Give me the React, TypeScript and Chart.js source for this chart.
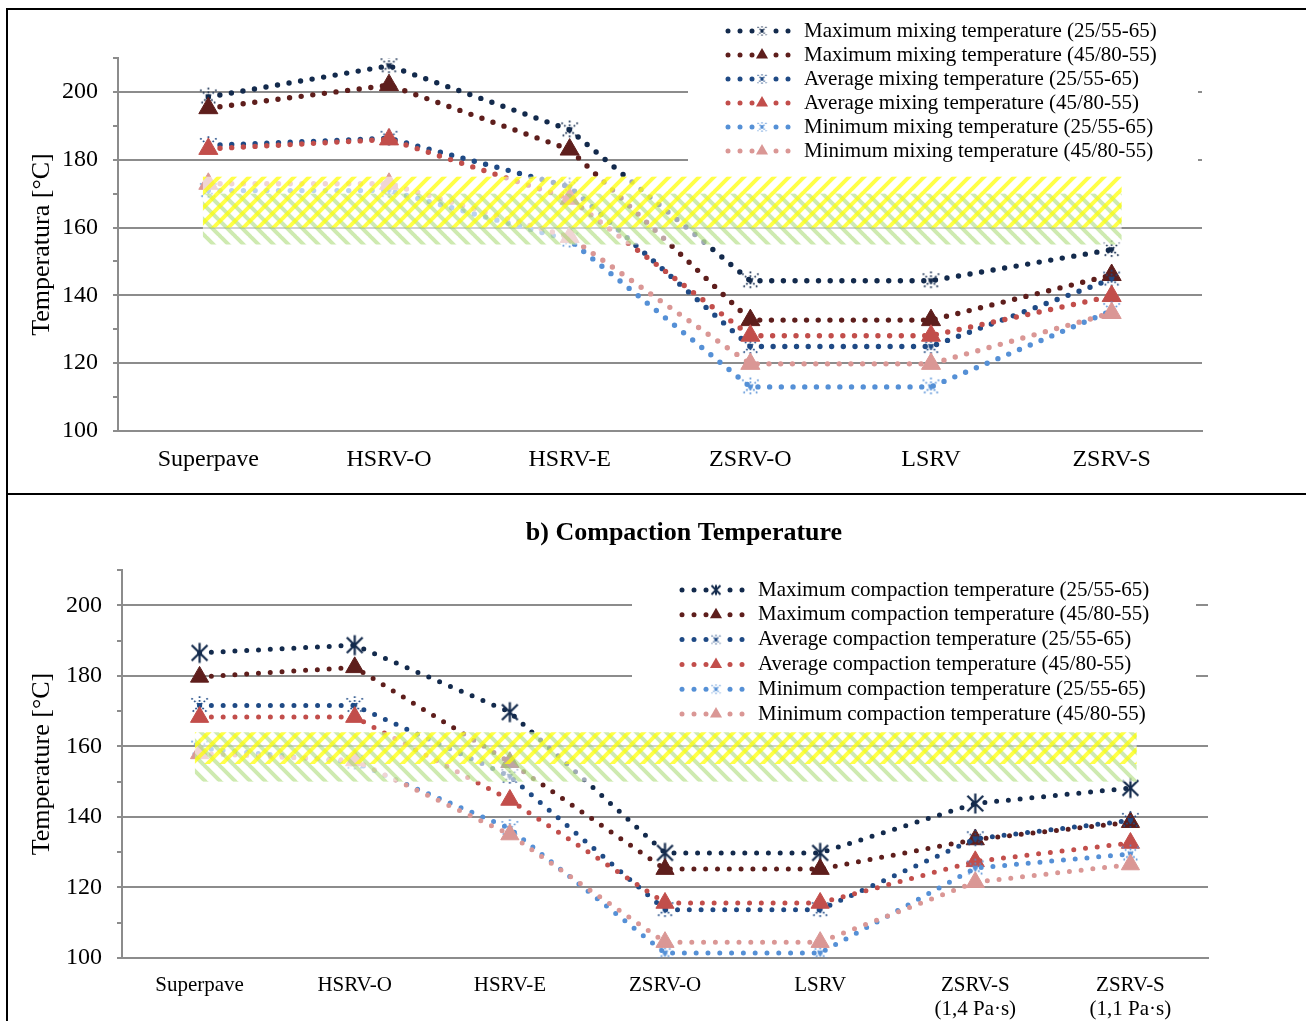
import React, { useEffect, useRef } from 'react';
import { Chart, registerables } from 'chart.js';

Chart.register(...registerables);

const SERIF = '"Liberation Serif", "Times New Roman", Times, serif';

// ---------- a) mixing temperature ----------
const mixCategories = ['Superpave', 'HSRV-O', 'HSRV-E', 'ZSRV-O', 'LSRV', 'ZSRV-S'];
const mixMax2555 = [198.5, 207.7, 188.8, 144.3, 144.3, 153.5];
const mixMax4580 = [195.2, 202.0, 183.0, 132.7, 132.7, 146.0];
const mixAvg2555 = [184.2, 186.3, 172.0, 124.9, 124.9, 144.8];
const mixAvg4580 = [183.2, 186.0, 168.5, 128.1, 128.1, 139.8];
const mixMin2555 = [170.9, 170.9, 156.3, 113.0, 113.0, 135.5];
const mixMin4580 = [172.9, 172.9, 157.2, 119.8, 119.8, 134.8];
const mixLabels = [
  'Maximum mixing temperature (25/55-65)',
  'Maximum mixing temperature (45/80-55)',
  'Average mixing temperature (25/55-65)',
  'Average mixing temperature (45/80-55)',
  'Minimum mixing temperature (25/55-65)',
  'Minimum mixing temperature (45/80-55)',
];
const mixYellowBand = [160, 175];
const mixGreenBand = [155, 170];
const mixBandSpan = [-0.03, 5.055];
const mixYTitle = 'Temperatura [°C]';

// ---------- b) compaction temperature ----------
const compTitle = 'b) Compaction Temperature';
const compCategories = [
  'Superpave',
  'HSRV-O',
  'HSRV-E',
  'ZSRV-O',
  'LSRV',
  ['ZSRV-S', '(1,4 Pa·s)'],
  ['ZSRV-S', '(1,1 Pa·s)'],
];
const compMax2555 = [186.5, 188.7, 169.7, 129.8, 129.8, 143.8, 148.2];
const compMax4580 = [179.7, 182.4, 155.5, 125.2, 125.2, 133.6, 138.5];
const compAvg2555 = [171.6, 171.6, 151.5, 113.7, 113.7, 133.8, 139.0];
const compAvg4580 = [168.3, 168.3, 144.8, 115.6, 115.6, 127.4, 132.6];
const compMin2555 = [159.5, 155.5, 136.7, 101.4, 101.4, 125.5, 129.5];
const compMin4580 = [158.0, 156.0, 135.0, 104.5, 104.5, 121.5, 126.5];
const compLabels = [
  'Maximum compaction temperature (25/55-65)',
  'Maximum compaction temperature (45/80-55)',
  'Average compaction temperature (25/55-65)',
  'Average compaction temperature (45/80-55)',
  'Minimum compaction temperature (25/55-65)',
  'Minimum compaction temperature (45/80-55)',
];
const compYellowBand = [155, 164];
const compGreenBand = [150, 164];
const compBandSpan = [-0.03, 6.04];
const compYTitle = 'Temperature [°C]';

const yMin = 100;
const yMax = 210;

const seriesColors = ['#132a4c', '#5e1e1c', '#1f4a85', '#c24e4b', '#5590d6', '#da9795'];
const seriesKinds = ['star', 'tri', 'star', 'tri', 'star', 'tri'];
const GRID = '#8c8c8c';

function makeStar(color: string, w: number, h: number, lw: number, dotted: boolean) {
  const c = document.createElement('canvas');
  c.width = w;
  c.height = h;
  const g = c.getContext('2d')!;
  g.strokeStyle = color;
  g.lineWidth = lw;
  if (dotted) g.setLineDash([lw, lw * 1.15]);
  const m = lw / 2 + 0.5;
  g.beginPath();
  g.moveTo(w / 2, m);
  g.lineTo(w / 2, h - m);
  g.moveTo(m, h * 0.16);
  g.lineTo(w - m, h * 0.84);
  g.moveTo(w - m, h * 0.16);
  g.lineTo(m, h * 0.84);
  g.stroke();
  if (dotted) {
    g.setLineDash([]);
    g.fillStyle = color;
    g.beginPath();
    g.arc(w / 2, h / 2, lw * 1.4, 0, Math.PI * 2);
    g.fill();
  }
  return c;
}

function makeHatch(ctx: CanvasRenderingContext2D, color: string, dir: number) {
  const p = 15;
  const c = document.createElement('canvas');
  c.width = p;
  c.height = p;
  const g = c.getContext('2d')!;
  g.strokeStyle = color;
  g.lineWidth = 4;
  g.beginPath();
  for (let k = -1; k <= 1; k++) {
    if (dir > 0) {
      g.moveTo(k * p - 1, p + 1);
      g.lineTo(k * p + p + 1, -1);
    } else {
      g.moveTo(k * p - 1, -1);
      g.lineTo(k * p + p + 1, p + 1);
    }
  }
  g.stroke();
  return ctx.createPattern(c, 'repeat')!;
}

interface Panel {
  categories: any[];
  series: number[][];
  labels: string[];
  yellow: number[];
  green: number[];
  span: number[];
  yTitle: string;
  title?: string;
  titlePos?: number[];
  yWidth: number;
  xHeight: number;
  padTop: number;
  padRight: number;
  catFont: number;
  dotSize: number;
  dotGap: number;
  triR: number;
  solidMaxStar: boolean;
  legend: { x: number; y: number; w: number; h: number; sampleX: number; textX: number; rowY: number; rowGap: number };
}

const mixPanel: Panel = {
  categories: mixCategories,
  series: [mixMax2555, mixMax4580, mixAvg2555, mixAvg4580, mixMin2555, mixMin4580],
  labels: mixLabels,
  yellow: mixYellowBand,
  green: mixGreenBand,
  span: mixBandSpan,
  yTitle: mixYTitle,
  yWidth: 108,
  xHeight: 60,
  padTop: 47,
  padRight: 104,
  catFont: 24,
  dotSize: 5.4,
  dotGap: 11.7,
  triR: 11,
  solidMaxStar: false,
  legend: { x: 678, y: 3, w: 510, h: 155, sampleX: 718, textX: 794, rowY: 20, rowGap: 24 },
};

const compPanel: Panel = {
  categories: compCategories,
  series: [compMax2555, compMax4580, compAvg2555, compAvg4580, compMin2555, compMin4580],
  labels: compLabels,
  yellow: compYellowBand,
  green: compGreenBand,
  span: compBandSpan,
  yTitle: compYTitle,
  title: compTitle,
  titlePos: [674, 37],
  yWidth: 112,
  xHeight: 63,
  padTop: 74,
  padRight: 98,
  catFont: 21,
  dotSize: 5,
  dotGap: 11.8,
  triR: 10.5,
  solidMaxStar: true,
  legend: { x: 622, y: 79, w: 564, h: 150, sampleX: 672, textX: 748, rowY: 94, rowGap: 24.8 },
};

function buildChart(canvas: HTMLCanvasElement, p: Panel) {
  const bigStars = seriesColors.map((c, i) =>
    i === 0 && p.solidMaxStar ? makeStar(c, 19, 23, 2.2, false) : makeStar(c, 19, 21, 1.7, true)
  );
  const smallStars = seriesColors.map((c, i) =>
    i === 0 && p.solidMaxStar ? makeStar(c, 12, 13, 2, false) : makeStar(c, 11, 12, 1.3, true)
  );

  const datasets = p.series.map((data, i) => ({
    label: p.labels[i],
    data,
    borderColor: seriesColors[i],
    backgroundColor: seriesColors[i],
    borderWidth: p.dotSize,
    borderDash: [0, p.dotGap],
    borderCapStyle: 'round' as const,
    tension: 0,
    fill: false,
    pointStyle: seriesKinds[i] === 'tri' ? 'triangle' : (bigStars[i] as any),
    pointRadius: seriesKinds[i] === 'tri' ? p.triR : 10,
    pointBackgroundColor: seriesColors[i],
    pointBorderColor: seriesColors[i],
    pointBorderWidth: 1,
    order: -i,
  }));

  const bandPlugin = {
    id: 'hatchBands',
    afterDatasetsDraw(chart: any) {
      const { ctx, scales } = chart;
      const x = scales.x;
      const y = scales.y;
      const x0 = x.getPixelForValue(p.span[0]);
      const x1 = x.getPixelForValue(p.span[1]);
      const hi = Math.max(p.yellow[1], p.green[1]);
      const lo = Math.min(p.yellow[0], p.green[0]);
      ctx.save();
      ctx.fillStyle = 'rgba(255,255,255,0.6)';
      ctx.fillRect(x0, y.getPixelForValue(hi), x1 - x0, y.getPixelForValue(lo) - y.getPixelForValue(hi));
      const bands = [
        { r: p.green, color: 'rgba(146,208,80,0.45)', dir: -1 },
        { r: p.yellow, color: 'rgba(255,255,0,0.72)', dir: 1 },
      ];
      bands.forEach((b) => {
        const yt = y.getPixelForValue(b.r[1]);
        const yb = y.getPixelForValue(b.r[0]);
        ctx.fillStyle = makeHatch(ctx, b.color, b.dir);
        ctx.fillRect(x0, yt, x1 - x0, yb - yt);
      });
      ctx.restore();
    },
  };

  const legendPlugin = {
    id: 'seriesLegend',
    afterDraw(chart: any) {
      const ctx: CanvasRenderingContext2D = chart.ctx;
      const L = p.legend;
      ctx.save();
      ctx.fillStyle = '#fff';
      ctx.fillRect(L.x, L.y, L.w, L.h);
      p.labels.forEach((label, i) => {
        const cy = L.rowY + i * L.rowGap;
        ctx.fillStyle = seriesColors[i];
        for (let k = 0; k < 6; k++) {
          if (k === 3) continue;
          ctx.beginPath();
          ctx.arc(L.sampleX + k * 12, cy, 2.5, 0, Math.PI * 2);
          ctx.fill();
        }
        const mx = L.sampleX + 34;
        if (seriesKinds[i] === 'tri') {
          const r = 7;
          ctx.beginPath();
          ctx.moveTo(mx, cy - r);
          ctx.lineTo(mx + r * 0.866, cy + r * 0.5);
          ctx.lineTo(mx - r * 0.866, cy + r * 0.5);
          ctx.closePath();
          ctx.fill();
        } else {
          const s = smallStars[i];
          ctx.drawImage(s, mx - s.width / 2, cy - s.height / 2);
        }
        ctx.fillStyle = '#000';
        ctx.font = `21px ${SERIF}`;
        ctx.textBaseline = 'middle';
        ctx.textAlign = 'left';
        ctx.fillText(label, L.textX, cy);
      });
      if (p.title && p.titlePos) {
        ctx.font = `bold 26px ${SERIF}`;
        ctx.textAlign = 'center';
        ctx.textBaseline = 'middle';
        ctx.fillStyle = '#000';
        ctx.fillText(p.title, p.titlePos[0], p.titlePos[1]);
      }
      ctx.restore();
    },
  };

  return new Chart(canvas, {
    type: 'line',
    data: { labels: p.categories, datasets: datasets as any },
    plugins: [bandPlugin, legendPlugin],
    options: {
      responsive: false,
      animation: false,
      events: [],
      layout: { padding: { top: p.padTop, right: p.padRight, left: 0, bottom: 0 } },
      plugins: { legend: { display: false }, tooltip: { enabled: false }, title: { display: false } },
      scales: {
        x: {
          offset: true,
          grid: { display: false, drawTicks: false },
          border: { display: true, color: GRID, width: 2 },
          ticks: {
            color: '#000',
            font: { family: SERIF, size: p.catFont, lineHeight: 1.15 },
            padding: 15,
            autoSkip: false,
            maxRotation: 0,
          },
          afterFit: (s: any) => {
            s.height = p.xHeight;
          },
        },
        y: {
          min: yMin,
          max: yMax,
          ticks: {
            stepSize: 10,
            autoSkip: false,
            padding: 15,
            color: '#000',
            font: { family: SERIF, size: 24 },
            callback: (v: any) => (Number(v) % 20 === 0 ? String(v) : ''),
          },
          grid: {
            color: (c: any) => (c.tick && c.tick.value % 20 === 0 ? GRID : 'rgba(0,0,0,0)'),
            lineWidth: 2,
            tickLength: 5,
            tickColor: GRID,
            tickWidth: 2,
            drawTicks: true,
          },
          border: { display: true, color: GRID, width: 2 },
          title: {
            display: true,
            text: p.yTitle,
            color: '#000',
            font: { family: SERIF, size: 26 },
            padding: { top: 17, bottom: 0 },
          },
          afterFit: (s: any) => {
            s.width = p.yWidth;
          },
        },
      },
    } as any,
  });
}

export default function App() {
  const topRef = useRef<HTMLCanvasElement>(null);
  const botRef = useRef<HTMLCanvasElement>(null);

  useEffect(() => {
    document.documentElement.style.overflow = 'hidden';
    const c1 = buildChart(topRef.current!, mixPanel);
    const c2 = buildChart(botRef.current!, compPanel);
    return () => {
      c1.destroy();
      c2.destroy();
    };
  }, []);

  return (
    <div style={{ position: 'fixed', left: 0, top: 0, width: 1306, height: 1021, overflow: 'hidden', background: '#fff' }}>
      <canvas ref={topRef} width={1296} height={480} style={{ position: 'absolute', left: 10, top: 11, width: 1296, height: 480 }} />
      <canvas ref={botRef} width={1296} height={525} style={{ position: 'absolute', left: 10, top: 496, width: 1296, height: 525 }} />
      <div style={{ position: 'absolute', left: 6, top: 8, width: 2, height: 1013, background: '#000' }} />
      <div style={{ position: 'absolute', left: 6, top: 8, width: 1300, height: 2, background: '#000' }} />
      <div style={{ position: 'absolute', left: 6, top: 493, width: 1300, height: 2, background: '#000' }} />
    </div>
  );
}
